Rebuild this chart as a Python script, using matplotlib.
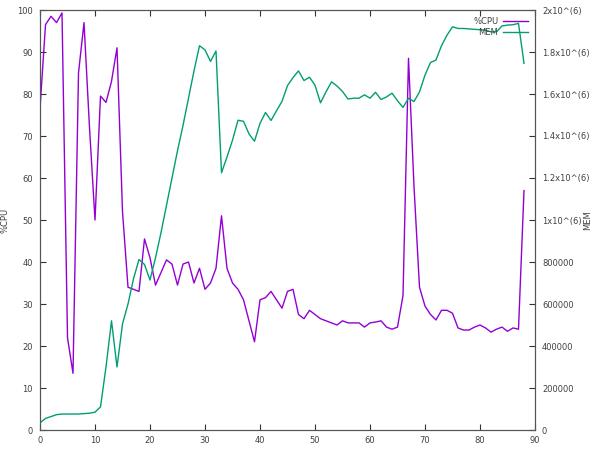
import matplotlib
matplotlib.use("Agg")
import matplotlib.pyplot as plt
from matplotlib.ticker import FixedLocator, FixedFormatter

x = list(range(89))
cpu = [76.5, 96.5, 98.5, 97, 99.3, 22, 13.5, 85, 97, 72,
       50, 79.5, 78, 83, 91, 52, 34, 33.5, 33, 45.5,
       41, 34.5, 37.5, 40.5, 39.5, 34.5, 39.5, 40, 35, 38.5,
       33.5, 35, 38.5, 51, 38.5, 35, 33.5, 31, 26, 21,
       31, 31.5, 33, 31, 29, 33, 33.5, 27.5, 26.5, 28.5,
       27.5, 26.5, 26, 25.5, 25, 26, 25.5, 25.5, 25.5, 24.5,
       25.5, 25.7, 26, 24.5, 24, 24.5, 32, 88.5, 58, 34,
       29.5, 27.5, 26.2, 28.5, 28.5, 27.8, 24.3, 23.8, 23.8, 24.5,
       25, 24.3, 23.3, 24, 24.5, 23.5, 24.3, 24, 57]
mem = [34000, 55000, 64000, 73000, 76000, 76000, 76000, 76000, 78000, 80000,
       85000, 110000, 300000, 520000, 300000, 505000, 600000, 720000, 812000, 788000,
       714000, 820000, 940000, 1070000, 1200000, 1330000, 1450000, 1580000, 1710000, 1830000,
       1810000, 1755000, 1805000, 1225000, 1300000, 1380000, 1475000, 1470000, 1410000, 1375000,
       1460000, 1512000, 1474000, 1520000, 1565000, 1640000, 1678000, 1710000, 1664000, 1680000,
       1642000, 1558000, 1610000, 1658000, 1638000, 1612000, 1576000, 1580000, 1580000, 1596000,
       1580000, 1608000, 1574000, 1586000, 1604000, 1568000, 1536000, 1580000, 1564000, 1610000,
       1690000, 1750000, 1762000, 1830000, 1880000, 1920000, 1912000, 1912000, 1910000, 1908000,
       1906000, 1904000, 1896000, 1896000, 1924000, 1928000, 1930000, 1936000, 1746000]

xticks = [0, 10, 20, 30, 40, 50, 60, 70, 80, 90]
yticks = [0, 10, 20, 30, 40, 50, 60, 70, 80, 90, 100]
y2ticks = [0, 200000, 400000, 600000, 800000, 1000000, 1200000, 1400000, 1600000, 1800000, 2000000]
y2labels = ["0", "200000", "400000", "600000", "800000", "1x10^(6)", "1.2x10^(6)",
            "1.4x10^(6)", "1.6x10^(6)", "1.8x10^(6)", "2x10^(6)"]

purple = "#9400d3"
green = "#009e73"
txt = "#404040"
fs = 6

plt.rcParams['font.family'] = ['DejaVu Sans']
fig = plt.figure(figsize=(6, 4.5), dpi=100)
ax = fig.add_axes([40/600, 20/450, 495/600, 420/450])
ax2 = ax.twinx()

l1, = ax.plot(x, cpu, color=purple, lw=1, label="%CPU")
l2, = ax2.plot(x, mem, color=green, lw=1, label="MEM")

ax.set_xlim(0, 90)
ax.set_ylim(0, 100)
ax2.set_ylim(0, 2000000)
ax.set_xticks(xticks)
ax.set_yticks(yticks)
ax2.yaxis.set_major_locator(FixedLocator(y2ticks))
ax2.yaxis.set_major_formatter(FixedFormatter(y2labels))

for a in (ax, ax2):
    for s in a.spines.values():
        s.set_color("#555555")
        s.set_linewidth(0.8)
ax.tick_params(axis='x', direction='in', length=4.5, width=0.8, color="#333333",
               labelsize=fs, labelcolor=txt, top=True, pad=4)
ax.tick_params(axis='y', direction='in', length=4.5, width=0.8, color="#333333",
               labelsize=fs, labelcolor=txt, right=False, pad=5)
ax2.tick_params(axis='y', direction='in', length=4.5, width=0.8, color="#333333",
                labelsize=fs, labelcolor=txt, pad=5)

ax.set_ylabel("%CPU", fontsize=fs, color=txt)
ax.yaxis.set_label_coords(-0.062, 0.5)
ax2.set_ylabel("MEM", fontsize=fs, color=txt, rotation=90)
ax2.yaxis.set_label_coords(1.098, 0.5)

leg = ax2.legend([l1, l2], ["%CPU", "MEM"], loc="upper right", frameon=False,
                 markerfirst=False, fontsize=fs, handlelength=3.0, handletextpad=0.6,
                 labelspacing=0.25, borderaxespad=0.6, borderpad=0.2)
for t in leg.get_texts():
    t.set_color(txt)

fig.savefig("out.png", dpi=100)
